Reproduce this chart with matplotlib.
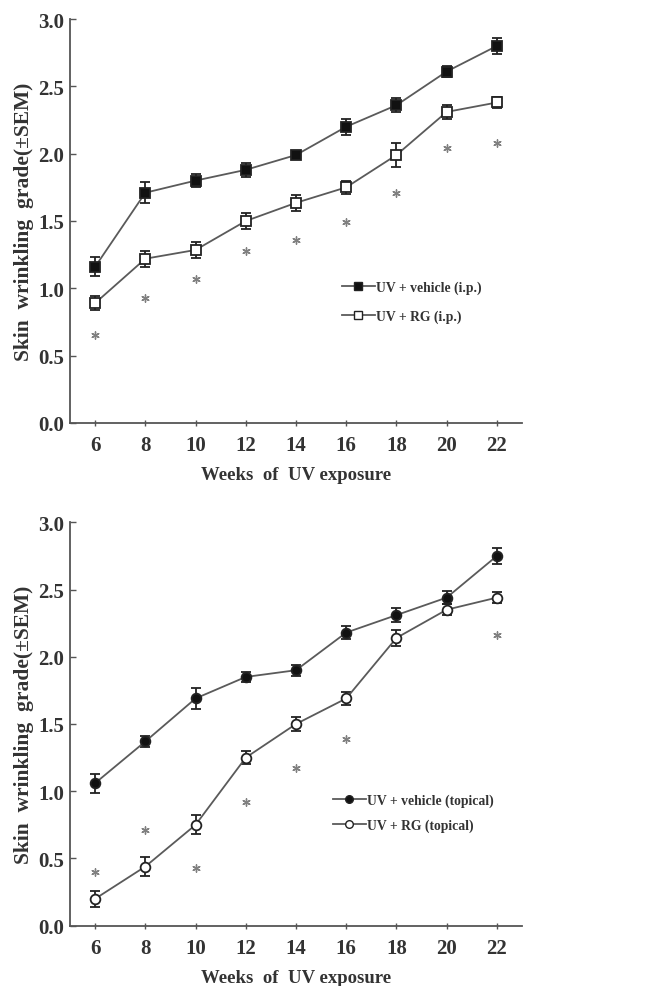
import matplotlib
matplotlib.use("Agg")
import matplotlib.pyplot as plt
from matplotlib.lines import Line2D

plt.rcParams['font.family'] = ['Liberation Serif', 'DejaVu Serif']
plt.rcParams['font.weight'] = 'bold'

weeks = [6, 8, 10, 12, 14, 16, 18, 20, 22]

# Top panel (i.p.)
ip_vehicle = [1.16, 1.71, 1.80, 1.88, 1.99, 2.20, 2.36, 2.61, 2.80]
ip_vehicle_sem = [0.07, 0.08, 0.05, 0.05, 0.02, 0.06, 0.05, 0.04, 0.06]
ip_rg = [0.89, 1.22, 1.285, 1.50, 1.635, 1.75, 1.99, 2.31, 2.38]
ip_rg_sem = [0.05, 0.06, 0.06, 0.06, 0.06, 0.05, 0.09, 0.05, 0.04]
ip_star_weeks = [6, 8, 10, 12, 14, 16, 18, 20, 22]
ip_star_y = [0.65, 0.93, 1.07, 1.28, 1.36, 1.49, 1.71, 2.04, 2.08]

# Bottom panel (topical)
top_vehicle = [1.06, 1.37, 1.69, 1.85, 1.90, 2.18, 2.31, 2.44, 2.75]
top_vehicle_sem = [0.07, 0.04, 0.08, 0.04, 0.04, 0.05, 0.05, 0.05, 0.06]
top_rg = [0.20, 0.44, 0.75, 1.25, 1.50, 1.69, 2.14, 2.35, 2.44]
top_rg_sem = [0.06, 0.07, 0.07, 0.05, 0.05, 0.05, 0.06, 0.04, 0.04]
top_star_weeks = [6, 8, 10, 12, 14, 16, 22]
top_star_y = [0.40, 0.71, 0.43, 0.92, 1.17, 1.39, 2.16]

yticks = [0.0, 0.5, 1.0, 1.5, 2.0, 2.5, 3.0]
ytick_labels = ['0.0', '0.5', '1.0', '1.5', '2.0', '2.5', '3.0']
xlabel = 'Weeks  of  UV exposure'
ylabel = 'Skin  wrinkling  grade(\u00b1SEM)'

W, H = 657, 987
fig = plt.figure(figsize=(W / 100, H / 100), dpi=100)

def fx(px):
    return px / W

def fy(py):
    return 1 - py / H

left, right = 70, 522
ax1 = fig.add_axes([fx(left), fy(424), fx(right - left), (424 - 20) / H])
ax2 = fig.add_axes([fx(left), fy(926.7), fx(right - left), (926.7 - 523.3) / H])

LINE = '#5a5a5a'
STAR = '#808080'

def style(ax):
    ax.set_xlim(5, 23)
    ax.set_ylim(0, 3)
    for s in ['top', 'right']:
        ax.spines[s].set_visible(False)
    for s in ['left', 'bottom']:
        ax.spines[s].set_color('#555555')
        ax.spines[s].set_linewidth(1.3)
    ax.set_xticks(weeks)
    ax.set_xticklabels([str(w) for w in weeks])
    ax.set_yticks(yticks)
    ax.set_yticklabels(ytick_labels)
    ax.tick_params(axis='x', direction='inout', length=5, width=1, color='#555555',
                   labelsize=15, pad=6)
    ax.tick_params(axis='y', direction='in', length=4, width=1, color='#555555',
                   labelsize=15, pad=4)
    for lab in ax.get_xticklabels() + ax.get_yticklabels():
        lab.set_fontweight('bold')
        lab.set_color('#333333')
    ax.set_xlabel(xlabel, fontsize=13.5, fontweight='bold', color='#333333', labelpad=8)
    ax.set_ylabel(ylabel, fontsize=15.5, fontweight='bold', color='#333333', labelpad=3)

def series(ax, y, sem, marker, filled, ms):
    ax.errorbar(weeks, y, yerr=sem, color=LINE, lw=1.3, marker=marker, ms=ms,
                mfc='#111111' if filled else 'white', mec='#222222', mew=1.3,
                ecolor='#222222', elinewidth=1.3, capsize=3.5, capthick=1.3, zorder=3)

# Top panel
style(ax1)
series(ax1, ip_vehicle, ip_vehicle_sem, 's', True, 7)
series(ax1, ip_rg, ip_rg_sem, 's', False, 7)
ax1.scatter(ip_star_weeks, ip_star_y, marker=(6, 2, 0), s=28, color=STAR, lw=1.0, zorder=2)
h1 = [Line2D([], [], color=LINE, lw=1.3, marker='s', ms=6, mfc='#111111', mec='#222222'),
      Line2D([], [], color=LINE, lw=1.3, marker='s', ms=6, mfc='white', mec='#222222')]
leg1 = ax1.legend(h1, ['UV + vehicle (i.p.)', 'UV + RG (i.p.)'], loc='center left',
                  bbox_to_anchor=(0.575, 0.30), frameon=False, handlelength=2.4,
                  handletextpad=0.1, labelspacing=1.1,
                  prop={'family': 'Liberation Serif', 'weight': 'bold', 'size': 9.8})
for t in leg1.get_texts():
    t.set_color('#333333')

# Bottom panel
style(ax2)
series(ax2, top_vehicle, top_vehicle_sem, 'o', True, 7)
series(ax2, top_rg, top_rg_sem, 'o', False, 7)
ax2.scatter(top_star_weeks, top_star_y, marker=(6, 2, 0), s=28, color=STAR, lw=1.0, zorder=2)
h2 = [Line2D([], [], color=LINE, lw=1.3, marker='o', ms=5.5, mfc='#111111', mec='#222222'),
      Line2D([], [], color=LINE, lw=1.3, marker='o', ms=5.5, mfc='white', mec='#222222')]
leg2 = ax2.legend(h2, ['UV + vehicle (topical)', 'UV + RG (topical)'], loc='center left',
                  bbox_to_anchor=(0.555, 0.28), frameon=False, handlelength=2.4,
                  handletextpad=0.1, labelspacing=0.8,
                  prop={'family': 'Liberation Serif', 'weight': 'bold', 'size': 9.8})
for t in leg2.get_texts():
    t.set_color('#333333')

fig.savefig('out.png', dpi=100)
